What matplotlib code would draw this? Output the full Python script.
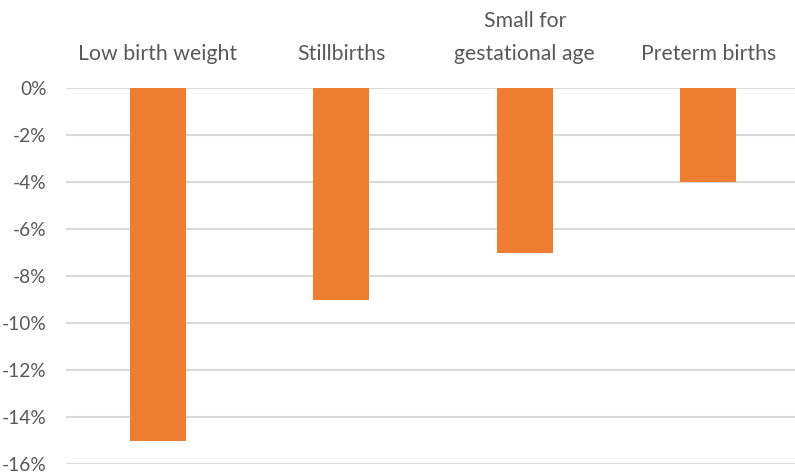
import matplotlib
matplotlib.use("Agg")
import matplotlib.pyplot as plt
import matplotlib.transforms as mtransforms
from matplotlib.ticker import FuncFormatter

categories = ["Low birth weight", "Stillbirths", "Small for\ngestational age", "Preterm births"]
values = [-15, -9, -7, -4]
yticks = [0, -2, -4, -6, -8, -10, -12, -14, -16]

plt.rcParams['font.family'] = ['Lato', 'DejaVu Sans']

fig = plt.figure(figsize=(7.95, 4.76), dpi=100)
ax = fig.add_axes([66/795, 12/476, 734/795, 376/476])

x = list(range(len(categories)))
ax.bar(x, values, width=0.305, color="#ED7D31", zorder=3)

ax.set_xlim(-0.5, len(categories) - 0.5)
ax.set_ylim(-16, 0)
ax.set_yticks(yticks)
ax.yaxis.set_major_formatter(FuncFormatter(lambda v, p: f"{int(round(v))}%"))
ax.tick_params(axis='y', length=0, pad=14, labelsize=13.8, labelcolor="#595959")
ax.set_xticks([])
ax.grid(axis='y', color="#D9D9D9", linewidth=1.5, zorder=0)
for s in ax.spines.values():
    s.set_visible(False)

offset = mtransforms.ScaledTranslation(0, 24/100, fig.dpi_scale_trans)
for xi, c in zip(x, categories):
    ax.text(xi, 1.0, c, transform=ax.get_xaxis_transform() + offset, ha='center', va='bottom',
            fontsize=15.3, color="#595959", linespacing=1.8)

fig.savefig("out.png", dpi=100)
